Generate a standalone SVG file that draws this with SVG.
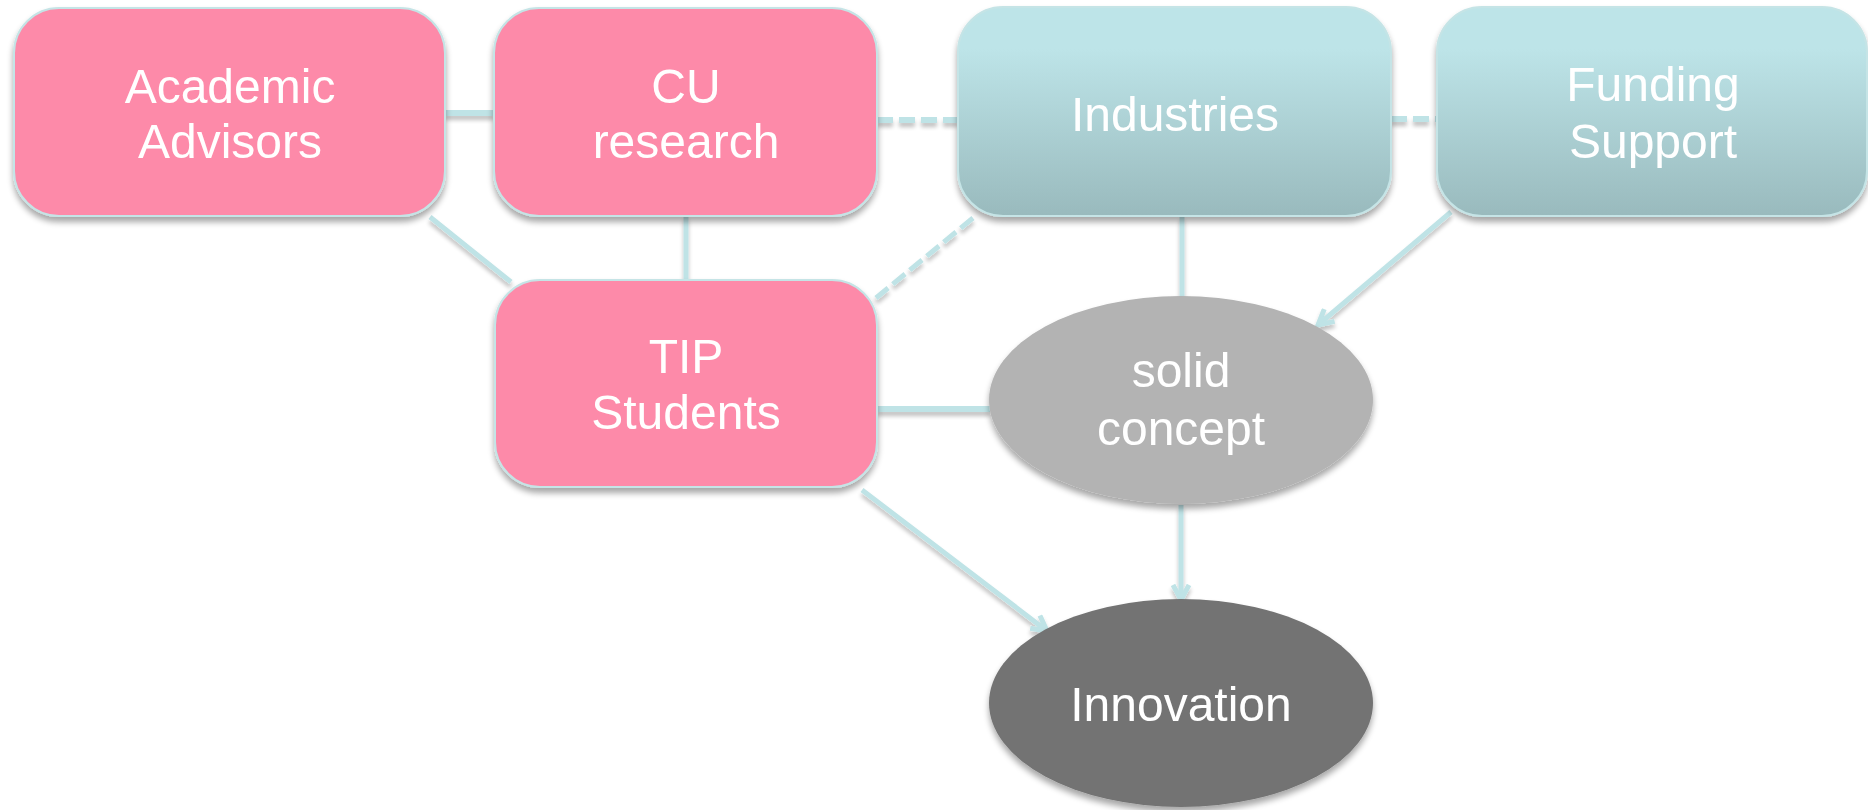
<svg xmlns="http://www.w3.org/2000/svg" width="1868" height="810" viewBox="0 0 1868 810">
<style>
.lbl{font-family:"Liberation Sans",Arial,sans-serif;font-size:48px;fill:#ffffff;text-anchor:middle}
.pink{fill:#fd8aa9;stroke:#c5e4e6;stroke-width:2}
.teal{fill:url(#tealGrad);stroke:#c5e4e6;stroke-width:2}
.con{fill:none;stroke:#bfe3e6;stroke-width:5}
.dash{stroke-dasharray:16 6}
</style>
<defs>
<linearGradient id="tealGrad" x1="0" y1="0" x2="0" y2="1">
<stop offset="0" stop-color="#bde4e8"/>
<stop offset="0.2" stop-color="#bde4e8"/>
<stop offset="1" stop-color="#99babd"/>
</linearGradient>
<filter id="sh" x="-10%" y="-10%" width="120%" height="130%">
<feGaussianBlur in="SourceAlpha" stdDeviation="3"/>
<feOffset dx="0" dy="5" result="b"/>
<feComponentTransfer><feFuncA type="linear" slope="0.35"/></feComponentTransfer>
<feMerge><feMergeNode/><feMergeNode in="SourceGraphic"/></feMerge>
</filter>
<filter id="lsh" x="-20%" y="-50%" width="140%" height="200%">
<feGaussianBlur in="SourceAlpha" stdDeviation="2"/>
<feOffset dx="0" dy="4" result="b"/>
<feComponentTransfer><feFuncA type="linear" slope="0.25"/></feComponentTransfer>
<feMerge><feMergeNode/><feMergeNode in="SourceGraphic"/></feMerge>
</filter>
<marker id="arr" viewBox="0 0 20 20" refX="17" refY="10" markerWidth="20" markerHeight="20" markerUnits="userSpaceOnUse" orient="auto">
<path d="M2,2 L17,10 L2,18" fill="none" stroke="#bfe3e6" stroke-width="5" stroke-linejoin="miter"/>
</marker>
</defs>
<g id="connectors" filter="url(#lsh)">
<line class="con" x1="445" y1="113" x2="494" y2="113" style="stroke-width:6"/>
<line class="con dash" x1="877" y1="120" x2="958" y2="120" style="stroke-width:6"/>
<line class="con dash" x1="1391" y1="119" x2="1437" y2="119" style="stroke-width:6"/>
<line class="con" x1="430" y1="217" x2="511" y2="282"/>
<line class="con" x1="686" y1="216" x2="686" y2="282"/>
<line class="con dash" x1="973" y1="218" x2="876" y2="298"/>
<line class="con" x1="1182" y1="216" x2="1182" y2="296"/>
<line class="con" x1="877" y1="409" x2="990" y2="409" style="stroke-width:6"/>
<line class="con" x1="1451" y1="212" x2="1318" y2="325" marker-end="url(#arr)"/>
<line class="con" x1="862" y1="490" x2="1047" y2="631" marker-end="url(#arr)"/>
<line class="con" x1="1181" y1="505" x2="1181" y2="600" marker-end="url(#arr)"/>
</g>
<g id="academic-advisors" filter="url(#sh)">
<rect class="pink" x="14" y="8" width="431" height="208" rx="45" ry="45"/>
<text class="lbl" x="230" y="103">Academic</text>
<text class="lbl" x="230" y="158">Advisors</text>
</g>
<g id="cu-research" filter="url(#sh)">
<rect class="pink" x="494" y="8" width="383" height="208" rx="45" ry="45"/>
<text class="lbl" x="686" y="103">CU</text>
<text class="lbl" x="686" y="158">research</text>
</g>
<g id="industries" filter="url(#sh)">
<rect class="teal" x="958" y="7" width="433" height="209" rx="45" ry="45"/>
<text class="lbl" x="1175" y="131">Industries</text>
</g>
<g id="funding-support" filter="url(#sh)">
<rect class="teal" x="1437" y="7" width="430" height="209" rx="45" ry="45"/>
<text class="lbl" x="1653" y="101">Funding</text>
<text class="lbl" x="1653" y="158">Support</text>
</g>
<g id="tip-students" filter="url(#sh)">
<rect class="pink" x="495" y="280" width="382" height="207" rx="45" ry="45"/>
<text class="lbl" x="686" y="373">TIP</text>
<text class="lbl" x="686" y="429">Students</text>
</g>
<g id="solid-concept" filter="url(#sh)">
<ellipse cx="1181" cy="400" rx="192" ry="104" fill="#b3b3b3"/>
<text class="lbl" x="1181" y="387">solid</text>
<text class="lbl" x="1181" y="445">concept</text>
</g>
<g id="innovation" filter="url(#sh)">
<ellipse cx="1181" cy="703" rx="192" ry="104" fill="#737373"/>
<text class="lbl" x="1181" y="721">Innovation</text>
</g>
</svg>
